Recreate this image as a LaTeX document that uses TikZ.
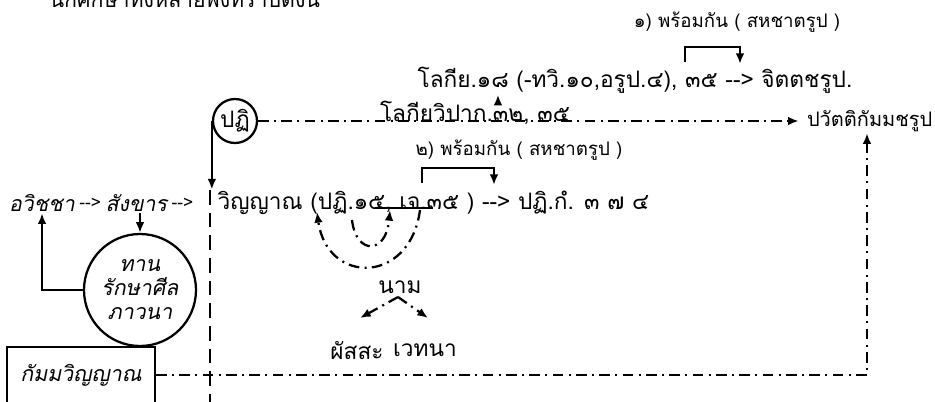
\documentclass[tikz,border=0pt]{standalone}
\usepackage{fontspec}
\newfontfamily\thfont[Script=Thai, ItalicFont=Loma, ItalicFeatures={FakeSlant=0.2}]{Loma}
\usetikzlibrary{positioning,arrows.meta}

\begin{document}
\begin{tikzpicture}[x=0.75pt, y=-0.75pt,
  txt/.style={font=\thfont\fontsize{17}{19}\selectfont, inner sep=1pt},
  itxt/.style={txt, font=\thfont\itshape\fontsize{16}{18}\selectfont},
  stxt/.style={txt, font=\thfont\fontsize{13}{15}\selectfont},
  saha/.style={txt, font=\thfont\fontsize{14}{16}\selectfont},
  arr/.style={-{Latex[length=8pt,width=6.5pt]}, line width=1.7pt},
  dd/.style={line width=1.7pt, dash pattern=on 8pt off 4pt on 1.5pt off 4pt},
  dsh/.style={line width=1.7pt, dash pattern=on 11pt off 6pt}
]
  \useasboundingbox (0,0) rectangle (935,401);

  % heading, cut at the top edge
  \node[txt, anchor=base west, font=\thfont\fontsize{16}{18}\selectfont] (head) at (48,7) {นักศึกษาทั้งหลายพึงทราบดังนี้};

  % upper part
  \node[saha] (sahaone) at (737,22) {๑) พร้อมกัน ( สหชาตรูป )};
  \node[txt] (lokiya) at (635,80) {โลกีย.๑๘ (-ทวิ.๑๐,อรูป.๔), ๓๕ --> จิตตชรูป.};
  \node[txt] (vipak) at (475,113) {โลกียวิปาก.๓๒, ๓๕};
  \node[draw, circle, line width=1.7pt, minimum size=33pt, inner sep=-4pt, txt] (pati) at (235,121) {ปฏิ};
  \node[txt, anchor=east, font=\thfont\fontsize{15}{17}\selectfont] (pavatti) at (934,121) {ปวัตติกัมมชรูป};
  \node[saha] (sahatwo) at (519,150) {๒) พร้อมกัน ( สหชาตรูป )};

  % middle line
  \node[itxt] (avijja) at (42,203) {อวิชชา};
  \node[stxt, right=1pt of avijja] (tone) {-->};
  \node[itxt, right=1pt of tone] (sangkhan) {สังขาร};
  \node[stxt, right=1pt of sangkhan] (ttwo) {-->};
  \node[txt, anchor=west] (vinyan) at (216,203) {วิญญาณ (ปฏิ.๑๕, เจ.๓๕ ) --> ปฏิ.กํ. ๓ ๗ ๔};

  \node[txt] (nama) at (400,287) {นาม};
  \node[txt] (phassa) at (357,350) {ผัสสะ};
  \node[txt] (vedana) at (425,350) {เวทนา};

  % lower left
  \node[draw, circle, line width=1.7pt, minimum size=84pt, inner sep=-6pt, itxt, align=center] (dana) at (140,290) {ทาน\\รักษาศีล\\ภาวนา};
  \node[draw, line width=1.7pt, minimum width=111pt, minimum height=42pt, itxt] (kamma) at (81,375) {กัมมวิญญาณ};

  \coordinate (up) at (498,0);
  \coordinate (bonel) at (685,62);
  \coordinate (boner) at (740,64);
  \coordinate (bonetop) at (0,47);
  \coordinate (btwol) at (422,183);
  \coordinate (btwor) at (494,185);
  \coordinate (btwotop) at (0,168);
  \coordinate (vtop) at (210,190);
  \coordinate (vbot) at (210,410);
  \coordinate (corner) at (867,375);
  \coordinate (ulinea) at (375,208);
  \coordinate (ulineb) at (433,208);
  \coordinate (outera) at (420,210);
  \coordinate (outerb) at (317,212);
  \coordinate (innera) at (352,220);
  \coordinate (innerb) at (390,210);
  \coordinate (peak) at (398,297);
  \coordinate (leftend) at (360,318);
  \coordinate (rightend) at (428,318);

  \draw[arr] (vipak.north -| up) -- (lokiya.south -| up);
  \draw[arr] (bonel) |- (boner |- bonetop) -- (boner);
  \draw[arr] (btwol) |- (btwor |- btwotop) -- (btwor);
  \draw[arr] (pati.west) -- (pati.west |- vinyan.north);
  \draw[dd, arr, shorten >=5pt] (pati.east) -- (pati.east -| pavatti.west);
  \draw[dsh] (vtop) -- (vbot);

  \draw[arr] (dana.north |- sangkhan.south) -- (dana.north);
  \draw[arr] (dana.west) -| (avijja.south);

  \draw[line width=1.7pt] (ulinea) -- (ulineb);
  \draw[dd, arr] (outera) .. controls (410,285) and (327,285) .. (outerb);
  \draw[dd, arr] (innera) .. controls (356,255) and (386,255) .. (innerb);
  \draw[dd, arr] (peak) -- (leftend);
  \draw[dd, arr] (peak) -- (rightend);

  \draw[dd, arr] (kamma.east) -- (corner) -- (corner |- pavatti.south);
\end{tikzpicture}
\end{document}
